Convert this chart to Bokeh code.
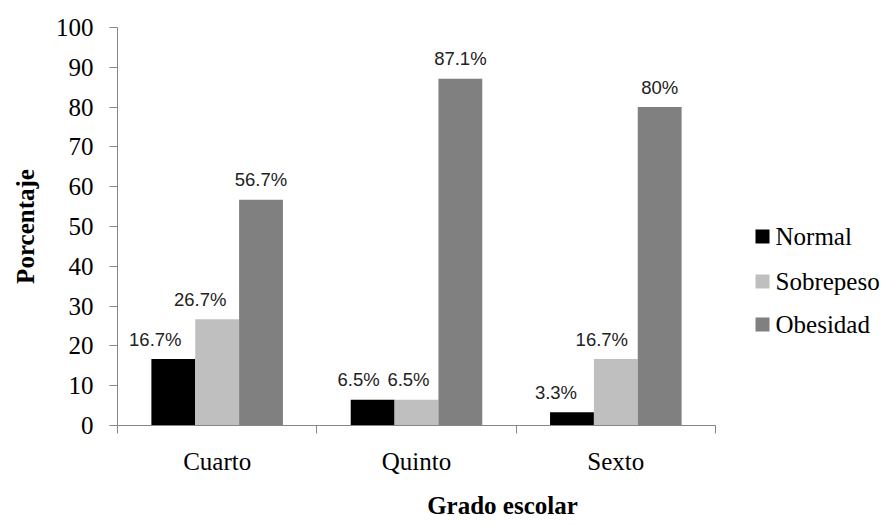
from bokeh.plotting import figure
from bokeh.models import ColumnDataSource, FixedTicker, LabelSet, Range1d
from bokeh.core.properties import value
from bokeh.embed import file_html
from bokeh.resources import INLINE
import numpy as np

# Data: percentage of pupils per nutritional status and school grade
grades = ["Cuarto", "Quinto", "Sexto"]
normal = [16.7, 6.5, 3.3]
sobrepeso = [26.7, 6.5, 16.7]
obesidad = [56.7, 87.1, 80.0]
series_names = ["Normal", "Sobrepeso", "Obesidad"]
y_ticks = [0, 10, 20, 30, 40, 50, 60, 70, 80, 90, 100]

# Styling
colors = ["#000000", "#bfbfbf", "#808080"]
serif = "Liberation Serif"
sans = "Liberation Sans"
bar_w = 0.22
dodge = [-bar_w, 0.0, bar_w]
# horizontal nudges (px) applied to the value labels, per series
label_dx = [[-18, -14, -16], [-17, -8, -14], [0, 0, 0]]

# Layout: the frame runs to the right edge so the legend can sit inside it;
# the x axis itself is bounded to the category span.
W, H = 887, 525
left, top, bottom = 117, 27, 100
axis_px = 598
frame_px = W - left
plot_h = H - top - bottom
n = len(grades)
x_end = n * frame_px / axis_px

# legend placement in screen pixels (square centre x, text start x, row centres)
leg_sq_px = 762
leg_txt_px = 775
leg_rows_px = [236, 281, 324]


def to_data_x(px):
    return (px - left) * n / axis_px


def to_data_y(py):
    return (H - bottom - py) * 100 / plot_h


p = figure(width=W, height=H, output_backend="svg", toolbar_location=None,
           x_range=Range1d(0, x_end), y_range=Range1d(0, 100),
           min_border_left=left, min_border_right=0,
           min_border_top=top, min_border_bottom=bottom)
p.outline_line_color = None
p.xgrid.visible = False
p.ygrid.visible = False
p.background_fill_color = "white"
p.border_fill_color = "white"

centers = np.arange(n) + 0.5
for i, vals in enumerate([normal, sobrepeso, obesidad]):
    src = ColumnDataSource(dict(
        x=centers + dodge[i],
        top=vals,
        txt=[f"{v:g}%" for v in vals],
        dx=label_dx[i],
    ))
    p.vbar(x="x", top="top", bottom=0, width=bar_w, source=src,
           fill_color=colors[i], line_color=None)
    p.add_layout(LabelSet(x="x", y="top", text="txt", source=src,
                          x_offset="dx", y_offset=20,
                          text_align="center", text_baseline="middle",
                          text_font=value(sans), text_font_size="18.5px",
                          text_color="#222222"))

# legend: colour swatches and series names
leg = ColumnDataSource(dict(
    xs=[to_data_x(leg_sq_px)] * len(series_names),
    xt=[to_data_x(leg_txt_px)] * len(series_names),
    y=[to_data_y(r) for r in leg_rows_px],
    name=series_names,
    color=colors,
))
p.rect(x="xs", y="y", width=14, height=14, width_units="screen",
       height_units="screen", fill_color="color", line_color=None, source=leg)
p.text(x="xt", y="y", text="name", source=leg, text_font=value(serif),
       text_font_size="25px", text_color="black", text_baseline="middle",
       text_align="left")

# y axis
ya = p.yaxis[0]
ya.ticker = FixedTicker(ticks=y_ticks)
ya.axis_label = "Porcentaje"
ya.axis_label_text_font = serif
ya.axis_label_text_font_style = "bold"
ya.axis_label_text_font_size = "25px"
ya.axis_label_text_color = "black"
ya.axis_label_standoff = 14
ya.major_label_text_font = serif
ya.major_label_text_font_size = "25px"
ya.major_label_text_color = "black"
ya.major_label_standoff = 16
ya.axis_line_color = "#868686"
ya.major_tick_line_color = "#868686"
ya.major_tick_out = 8
ya.major_tick_in = 0
ya.minor_tick_line_color = None

# x axis: labels at category centres, tick marks at category boundaries
xa = p.xaxis[0]
xa.bounds = (0, n)
xa.ticker = FixedTicker(ticks=list(centers),
                        minor_ticks=list(range(n + 1)))
xa.major_label_overrides = {float(c): g for c, g in zip(centers, grades)}
xa.axis_label = "Grado escolar"
xa.axis_label_text_font = serif
xa.axis_label_text_font_style = "bold"
xa.axis_label_text_font_size = "25px"
xa.axis_label_text_color = "black"
xa.axis_label_standoff = 14
xa.major_label_text_font = serif
xa.major_label_text_font_size = "25px"
xa.major_label_text_color = "black"
xa.major_label_standoff = 14
xa.axis_line_color = "#868686"
xa.major_tick_line_color = None
xa.major_tick_out = 8
xa.major_tick_in = 0
xa.minor_tick_line_color = "#868686"
xa.minor_tick_out = 8
xa.minor_tick_in = 0

open("out.html", "w").write(file_html(p, INLINE))
